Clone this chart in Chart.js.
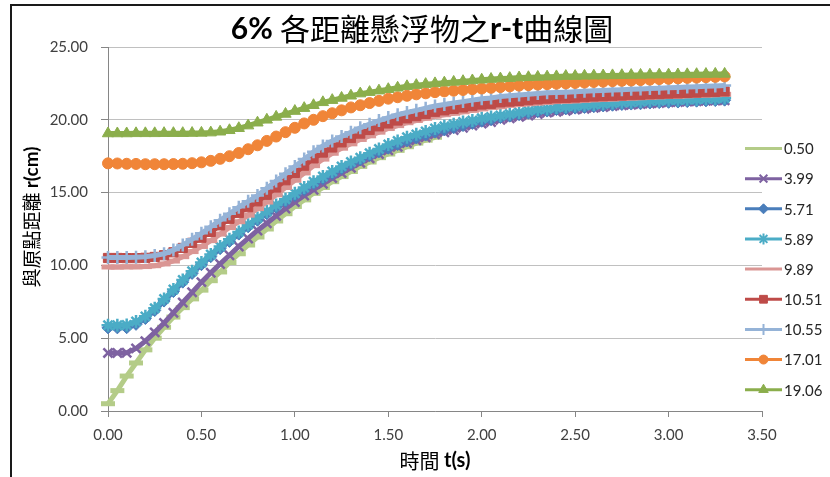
<!DOCTYPE html>
<html>
<head>
  <title>6% 各距離懸浮物之r-t曲線圖</title>
  <script src="https://cdn.jsdelivr.net/npm/chart.js"></script>
  <style>
    body {
      margin: 0;
      background-color: #fff;
    }
    .chart-box {
      position: relative;
      width: 830px;
      height: 477px;
    }
  </style>
</head>
<body>
  <div class="chart-box">
    <canvas id="rtChart"></canvas>
  </div>

  <script>
    // series names (initial distance, cm)
    const seriesNames = ['0.50', '3.99', '5.71', '5.89', '9.89', '10.51', '10.55', '17.01', '19.06'];

    // time axis (s)
    const times = [
      0.00, 0.05, 0.10, 0.15, 0.20, 0.25, 0.30, 0.35, 0.40, 0.45,
      0.50, 0.55, 0.60, 0.65, 0.70, 0.75, 0.80, 0.85, 0.90, 0.95,
      1.00, 1.05, 1.10, 1.15, 1.20, 1.25, 1.30, 1.35, 1.40, 1.45,
      1.50, 1.55, 1.60, 1.65, 1.70, 1.75, 1.80, 1.85, 1.90, 1.95,
      2.00, 2.05, 2.10, 2.15, 2.20, 2.25, 2.30, 2.35, 2.40, 2.45,
      2.50, 2.55, 2.60, 2.65, 2.70, 2.75, 2.80, 2.85, 2.90, 2.95,
      3.00, 3.05, 3.10, 3.15, 3.20, 3.25, 3.30
    ];

    // r values (cm)
    const r050 = [
      0.50, 1.40, 2.40, 3.30, 4.20, 5.00, 5.75, 6.45, 7.10, 7.70,
      8.30, 8.95, 9.55, 10.20, 10.80, 11.40, 11.95, 12.50, 13.05, 13.55,
      14.05, 14.50, 14.95, 15.35, 15.75, 16.10, 16.45, 16.80, 17.10, 17.40,
      17.65, 17.90, 18.15, 18.40, 18.60, 18.80
    ];
    const r399 = [
      3.99, 3.99, 4.00, 4.30, 4.80, 5.40, 6.05, 6.75, 7.45, 8.15,
      8.85, 9.50, 10.10, 10.70, 11.30, 11.85, 12.40, 12.90, 13.40, 13.90,
      14.35, 14.80, 15.20, 15.60, 16.00, 16.35, 16.70, 17.05, 17.35, 17.65,
      17.90, 18.15, 18.40, 18.60, 18.80, 19.00, 19.15, 19.30, 19.45, 19.60,
      19.75, 19.85, 20.00, 20.10, 20.20, 20.30, 20.40, 20.50, 20.55, 20.62,
      20.70, 20.76, 20.82, 20.88, 20.94, 21.00, 21.04, 21.08, 21.12, 21.16,
      21.20, 21.22, 21.25, 21.28, 21.30, 21.32, 21.34
    ];
    const r571 = [
      5.71, 5.71, 5.72, 5.95, 6.35, 6.90, 7.55, 8.20, 8.85, 9.45,
      10.05, 10.60, 11.15, 11.65, 12.15, 12.65, 13.10, 13.55, 14.00, 14.40,
      14.80, 15.20, 15.60, 15.95, 16.30, 16.65, 16.95, 17.25, 17.55, 17.80,
      18.05, 18.30, 18.55, 18.75, 18.95, 19.15, 19.30, 19.45, 19.60, 19.75,
      19.90, 20.00, 20.15, 20.25, 20.35, 20.45, 20.55, 20.60, 20.70, 20.75,
      20.80, 20.85, 20.90, 20.95, 21.00, 21.05, 21.08, 21.10, 21.15, 21.18,
      21.20, 21.22, 21.25, 21.28, 21.30, 21.32, 21.35
    ];
    const r589 = [
      5.89, 5.89, 5.90, 6.15, 6.50, 7.05, 7.70, 8.35, 9.00, 9.60,
      10.20, 10.75, 11.30, 11.80, 12.30, 12.80, 13.25, 13.70, 14.15, 14.55,
      14.95, 15.35, 15.75, 16.10, 16.45, 16.80, 17.10, 17.40, 17.70, 18.00,
      18.30, 18.55, 18.80, 19.00, 19.20, 19.40, 19.55, 19.70, 19.85, 19.95,
      20.10, 20.20, 20.30, 20.40, 20.50, 20.60, 20.70, 20.75, 20.85, 20.90,
      20.95, 21.00, 21.05, 21.10, 21.15, 21.20, 21.20, 21.25, 21.30, 21.30,
      21.35, 21.35, 21.40, 21.40, 21.45, 21.45, 21.50
    ];
    const r989 = [
      9.89, 9.89, 9.90, 9.90, 9.92, 9.98, 10.10, 10.30, 10.60, 10.95,
      11.30, 11.70, 12.15, 12.60, 13.00, 13.45, 13.90, 14.35, 14.85, 15.35,
      15.85, 16.35, 16.85, 17.30, 17.70, 18.05, 18.35, 18.65, 18.90, 19.15,
      19.40, 19.60, 19.80, 19.95, 20.10, 20.25, 20.35, 20.45, 20.55, 20.65,
      20.75, 20.85, 20.90, 21.00, 21.05, 21.10, 21.15, 21.20, 21.25, 21.28,
      21.30, 21.35, 21.38, 21.40, 21.43, 21.46, 21.50, 21.52, 21.55, 21.58,
      21.60, 21.62, 21.65, 21.67, 21.70, 21.72, 21.75
    ];
    const r1051 = [
      10.51, 10.51, 10.50, 10.50, 10.52, 10.58, 10.70, 10.90, 11.20, 11.55,
      11.90, 12.30, 12.75, 13.20, 13.60, 14.00, 14.40, 14.85, 15.35, 15.85,
      16.35, 16.85, 17.35, 17.75, 18.10, 18.45, 18.75, 19.05, 19.30, 19.55,
      19.75, 19.95, 20.10, 20.25, 20.40, 20.55, 20.65, 20.75, 20.85, 20.95,
      21.05, 21.10, 21.20, 21.25, 21.30, 21.35, 21.40, 21.45, 21.48, 21.50,
      21.53, 21.56, 21.60, 21.62, 21.65, 21.67, 21.70, 21.72, 21.75, 21.77,
      21.80, 21.82, 21.85, 21.87, 21.90, 21.92, 21.95
    ];
    const r1055 = [
      10.55, 10.55, 10.55, 10.56, 10.60, 10.68, 10.80, 11.05, 11.40, 11.80,
      12.20, 12.65, 13.10, 13.55, 14.00, 14.40, 14.80, 15.30, 15.80, 16.30,
      16.80, 17.30, 17.80, 18.20, 18.55, 18.85, 19.15, 19.45, 19.70, 19.95,
      20.15, 20.35, 20.50, 20.65, 20.80, 20.95, 21.05, 21.15, 21.25, 21.35,
      21.45, 21.50, 21.60, 21.65, 21.70, 21.75, 21.80, 21.85, 21.88, 21.90,
      21.93, 21.96, 22.00, 22.02, 22.05, 22.07, 22.10, 22.12, 22.15, 22.17,
      22.20, 22.22, 22.25, 22.27, 22.30, 22.32, 22.35
    ];
    const r1701 = [
      17.01, 17.00, 16.98, 16.97, 16.95, 16.95, 16.95, 16.96, 16.98, 17.02,
      17.08, 17.18, 17.32, 17.50, 17.72, 17.98, 18.25, 18.55, 18.85, 19.15,
      19.45, 19.75, 20.00, 20.25, 20.45, 20.65, 20.85, 21.00, 21.15, 21.30,
      21.45, 21.55, 21.65, 21.75, 21.82, 21.90, 21.95, 22.00, 22.05, 22.10,
      22.15, 22.20, 22.25, 22.30, 22.35, 22.38, 22.42, 22.45, 22.48, 22.50,
      22.53, 22.56, 22.60, 22.62, 22.65, 22.68, 22.70, 22.73, 22.76, 22.80,
      22.82, 22.85, 22.88, 22.90, 22.93, 22.95, 22.98
    ];
    const r1906 = [
      19.06, 19.06, 19.06, 19.07, 19.07, 19.07, 19.08, 19.08, 19.08, 19.09,
      19.10, 19.12, 19.18, 19.28, 19.42, 19.60, 19.80, 20.00, 20.20, 20.40,
      20.60, 20.80, 21.00, 21.20, 21.35, 21.50, 21.65, 21.80, 21.90, 22.00,
      22.10, 22.20, 22.30, 22.38, 22.45, 22.50, 22.55, 22.60, 22.65, 22.70,
      22.75, 22.80, 22.83, 22.86, 22.90, 22.92, 22.94, 22.96, 22.98, 23.00,
      23.00, 23.02, 23.03, 23.04, 23.05, 23.06, 23.07, 23.08, 23.09, 23.10,
      23.10, 23.11, 23.12, 23.13, 23.14, 23.15, 23.15
    ];
    const seriesValues = [r050, r399, r571, r589, r989, r1051, r1055, r1701, r1906];

    // axis ticks
    const xTicks = [0, 0.5, 1.0, 1.5, 2.0, 2.5, 3.0, 3.5];
    const yTicks = [0, 5, 10, 15, 20, 25];

    // Excel-like look per series
    const seriesStyles = [
      { color: '#B4CC88', marker: 'line', radius: 7, markerWidth: 5 },
      { color: '#7E62A1', marker: 'crossRot', radius: 6.5, markerWidth: 2.5 },
      { color: '#4A7EBB', marker: 'rectRot', radius: 6, markerWidth: 1 },
      { color: '#4BACC6', marker: 'star', radius: 6.5, markerWidth: 2.5 },
      { color: '#DA9694', marker: 'line', radius: 6.5, markerWidth: 5 },
      { color: '#BE4B48', marker: 'rect', radius: 6.5, markerWidth: 1 },
      { color: '#95B3D7', marker: 'cross', radius: 6.5, markerWidth: 2.5 },
      { color: '#F08538', marker: 'circle', radius: 5.5, markerWidth: 1 },
      { color: '#8BAE4C', marker: 'triangle', radius: 6.5, markerWidth: 1 }
    ];

    const latinFont = "Lato, 'Noto Sans CJK TC', sans-serif";
    const cjkFont = "'Noto Sans CJK TC', sans-serif";

    // draw text made of runs with different weights, centred on (cx, cy)
    function drawRuns(ctx, runs, cx, cy, size) {
      const fonts = runs.map(r => (r[1] ? 'bold ' : '') + size + 'px ' + (r[2] || latinFont));
      let total = 0;
      const widths = runs.map((r, i) => {
        ctx.font = fonts[i];
        const w = ctx.measureText(r[0]).width;
        total += w;
        return w;
      });
      let x = cx - total / 2;
      ctx.textBaseline = 'middle';
      ctx.textAlign = 'left';
      runs.forEach((r, i) => {
        ctx.font = fonts[i];
        ctx.fillText(r[0], x, cy);
        x += widths[i];
      });
    }

    const decorations = {
      id: 'decorations',
      beforeDraw(chart) {
        const ctx = chart.ctx;
        ctx.save();
        ctx.fillStyle = '#fff';
        ctx.fillRect(0, 0, chart.width, chart.height);
        ctx.strokeStyle = '#1a1a1a';
        ctx.lineWidth = 2;
        ctx.beginPath();
        ctx.moveTo(11, chart.height);
        ctx.lineTo(11, 5);
        ctx.lineTo(chart.width, 5);
        ctx.stroke();
        ctx.restore();
      },
      afterDraw(chart) {
        const ctx = chart.ctx;
        ctx.save();
        ctx.fillStyle = '#000';

        // chart title
        drawRuns(ctx, [['6% ', true], ['各距離懸浮物之', false, cjkFont], ['r-t', true], ['曲線圖', false, cjkFont]], 422, 29, 30);

        // x axis title
        drawRuns(ctx, [['時間 ', false, cjkFont], ['t(s)', true]], 435, 461, 20);

        // y axis title (rotated)
        ctx.save();
        ctx.translate(32, 217);
        ctx.rotate(-Math.PI / 2);
        drawRuns(ctx, [['與原點距離 ', false, cjkFont], ['r(cm)', true]], 0, 0, 19);
        ctx.restore();

        // legend
        const lx0 = 745, lx1 = 782, ly0 = 148.5, step = 30.15;
        seriesNames.forEach((name, i) => {
          const s = seriesStyles[i];
          const y = ly0 + i * step;
          ctx.strokeStyle = s.color;
          ctx.lineWidth = 3;
          ctx.beginPath();
          ctx.moveTo(lx0, y);
          ctx.lineTo(lx1, y);
          ctx.stroke();
          if (s.marker !== 'line' && Chart.helpers && Chart.helpers.drawPoint) {
            ctx.fillStyle = s.color;
            ctx.strokeStyle = s.color;
            ctx.lineWidth = Math.min(s.markerWidth, 2);
            Chart.helpers.drawPoint(ctx, { pointStyle: s.marker, radius: s.radius - 1, rotation: 0, borderWidth: Math.min(s.markerWidth, 2) }, (lx0 + lx1) / 2, y);
          }
          ctx.fillStyle = '#262626';
          ctx.font = '15px ' + latinFont;
          ctx.textAlign = 'left';
          ctx.textBaseline = 'middle';
          ctx.fillText(name, lx1 + 2, y + 1);
        });
        ctx.restore();
      }
    };

    const datasets = seriesNames.map((name, i) => {
      const s = seriesStyles[i];
      return {
        label: name,
        data: seriesValues[i].map((v, j) => ({ x: times[j], y: v })),
        borderColor: s.color,
        backgroundColor: s.color,
        borderWidth: 5,
        pointStyle: s.marker,
        pointRadius: s.radius,
        pointBorderWidth: s.markerWidth,
        pointBackgroundColor: s.color,
        pointBorderColor: s.color,
        tension: 0,
        clip: false,
        order: -i
      };
    });

    const tickFont = { family: latinFont, size: 15 };

    new Chart(document.getElementById('rtChart'), {
      type: 'line',
      data: { datasets: datasets },
      plugins: [decorations],
      options: {
        responsive: true,
        maintainAspectRatio: false,
        animation: false,
        events: [],
        layout: { padding: { top: 47, right: 68, left: 0, bottom: 0 } },
        plugins: {
          legend: { display: false },
          title: { display: false },
          tooltip: { enabled: false }
        },
        scales: {
          x: {
            type: 'linear',
            min: 0,
            max: 3.5,
            afterBuildTicks: scale => { scale.ticks = xTicks.map(v => ({ value: v })); },
            afterFit: scale => { scale.height = 66; },
            ticks: {
              callback: v => Number(v).toFixed(2),
              color: '#404040',
              font: tickFont,
              padding: 9,
              maxRotation: 0,
              autoSkip: false
            },
            grid: { drawOnChartArea: false, drawTicks: true, tickLength: 6, color: '#868686', tickColor: '#868686' },
            border: { color: '#868686', width: 1 }
          },
          y: {
            min: 0,
            max: 25,
            afterBuildTicks: scale => { scale.ticks = yTicks.map(v => ({ value: v })); },
            afterFit: scale => { scale.width = 108; },
            ticks: {
              callback: v => Number(v).toFixed(2),
              color: '#404040',
              font: tickFont,
              padding: 13
            },
            grid: { color: '#C0C0C0', tickColor: '#868686', tickLength: 7 },
            border: { color: '#868686', width: 1 }
          }
        }
      }
    });
  </script>
</body>
</html>
